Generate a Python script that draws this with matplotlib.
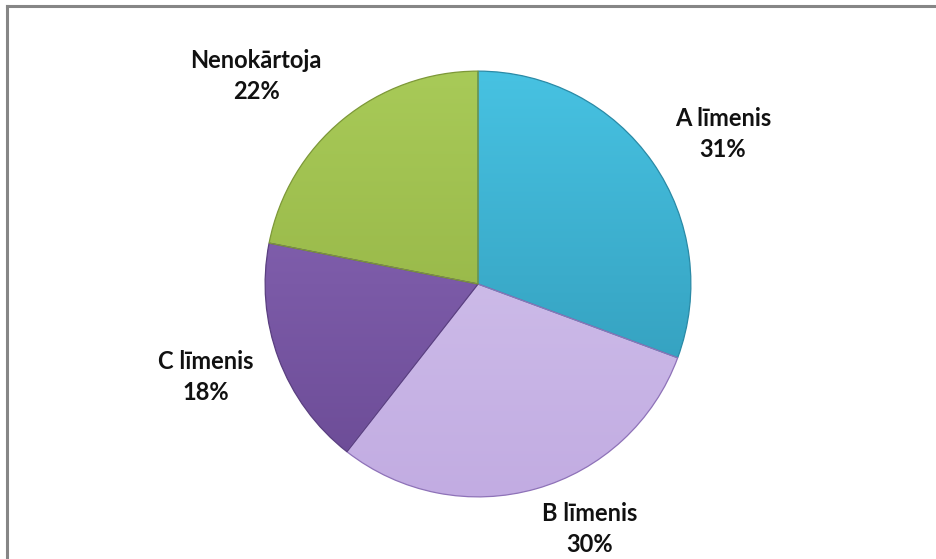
"""Pie chart of exam level distribution (A/B/C līmenis, Nenokārtoja)."""

import matplotlib

matplotlib.use("Agg")
import matplotlib.pyplot as plt
from matplotlib.colors import LinearSegmentedColormap
from matplotlib.lines import Line2D
import numpy as np

labels = ["A līmenis", "B līmenis", "C līmenis", "Nenokārtoja"]
shares = [30.6, 29.9, 17.5, 21.9]

# top / bottom colours of each slice gradient
top_colors = ["#47c2e2", "#d6c8ee", "#8c6aba", "#a8ca58"]
bottom_colors = ["#2e94b2", "#c2ace2", "#6a4a94", "#8dab3e"]
edge_colors = ["#2a8aa6", "#8e72b8", "#5a3f80", "#7d9838"]

# label centres in figure pixels (x, y from top)
label_pos = [(723, 134), (590, 529), (206, 377), (256, 76)]

W, H = 936, 559
cx, cy, rad = 478, 284, 215

fig = plt.figure(figsize=(W / 100, H / 100), dpi=100)
fig.patch.set_facecolor("white")

# chart frame (left and top edges visible, rest cropped)
fig.add_artist(Line2D([7.5 / W, 7.5 / W], [0, 1 - 5.5 / H], color="#868686", lw=2.2))
fig.add_artist(Line2D([7.5 / W, 1], [1 - 5.5 / H, 1 - 5.5 / H], color="#868686", lw=2.2))

ax = fig.add_axes([(cx - rad) / W, (H - cy - rad) / H, 2 * rad / W, 2 * rad / H])
wedges, _ = ax.pie(
    shares,
    startangle=90,
    counterclock=False,
    radius=1,
    wedgeprops={"linewidth": 0.9},
)

grad = np.linspace(0, 1, 256).reshape(-1, 1)
for w, c0, c1, ec in zip(wedges, top_colors, bottom_colors, edge_colors):
    w.set_facecolor("none")
    w.set_edgecolor(ec)
    w.set_zorder(3)
    cmap = LinearSegmentedColormap.from_list("g", [c0, c1])
    im = ax.imshow(grad, cmap=cmap, extent=[-1, 1, -1, 1], origin="upper",
                   aspect="auto", zorder=2)
    im.set_clip_path(w)

ax.set_xlim(-1.01, 1.01)
ax.set_ylim(-1.01, 1.01)
ax.set_aspect("equal")
ax.axis("off")

total = sum(shares)
for name, val, (px, py) in zip(labels, shares, label_pos):
    pct = round(100 * val / total)
    fig.text(px / W, 1 - py / H, f"{name}\n{pct}%", ha="center", va="center",
             fontsize=17, fontweight="bold", family="Lato", color="#111111",
             linespacing=1.45)

fig.savefig("out.png", dpi=100)
